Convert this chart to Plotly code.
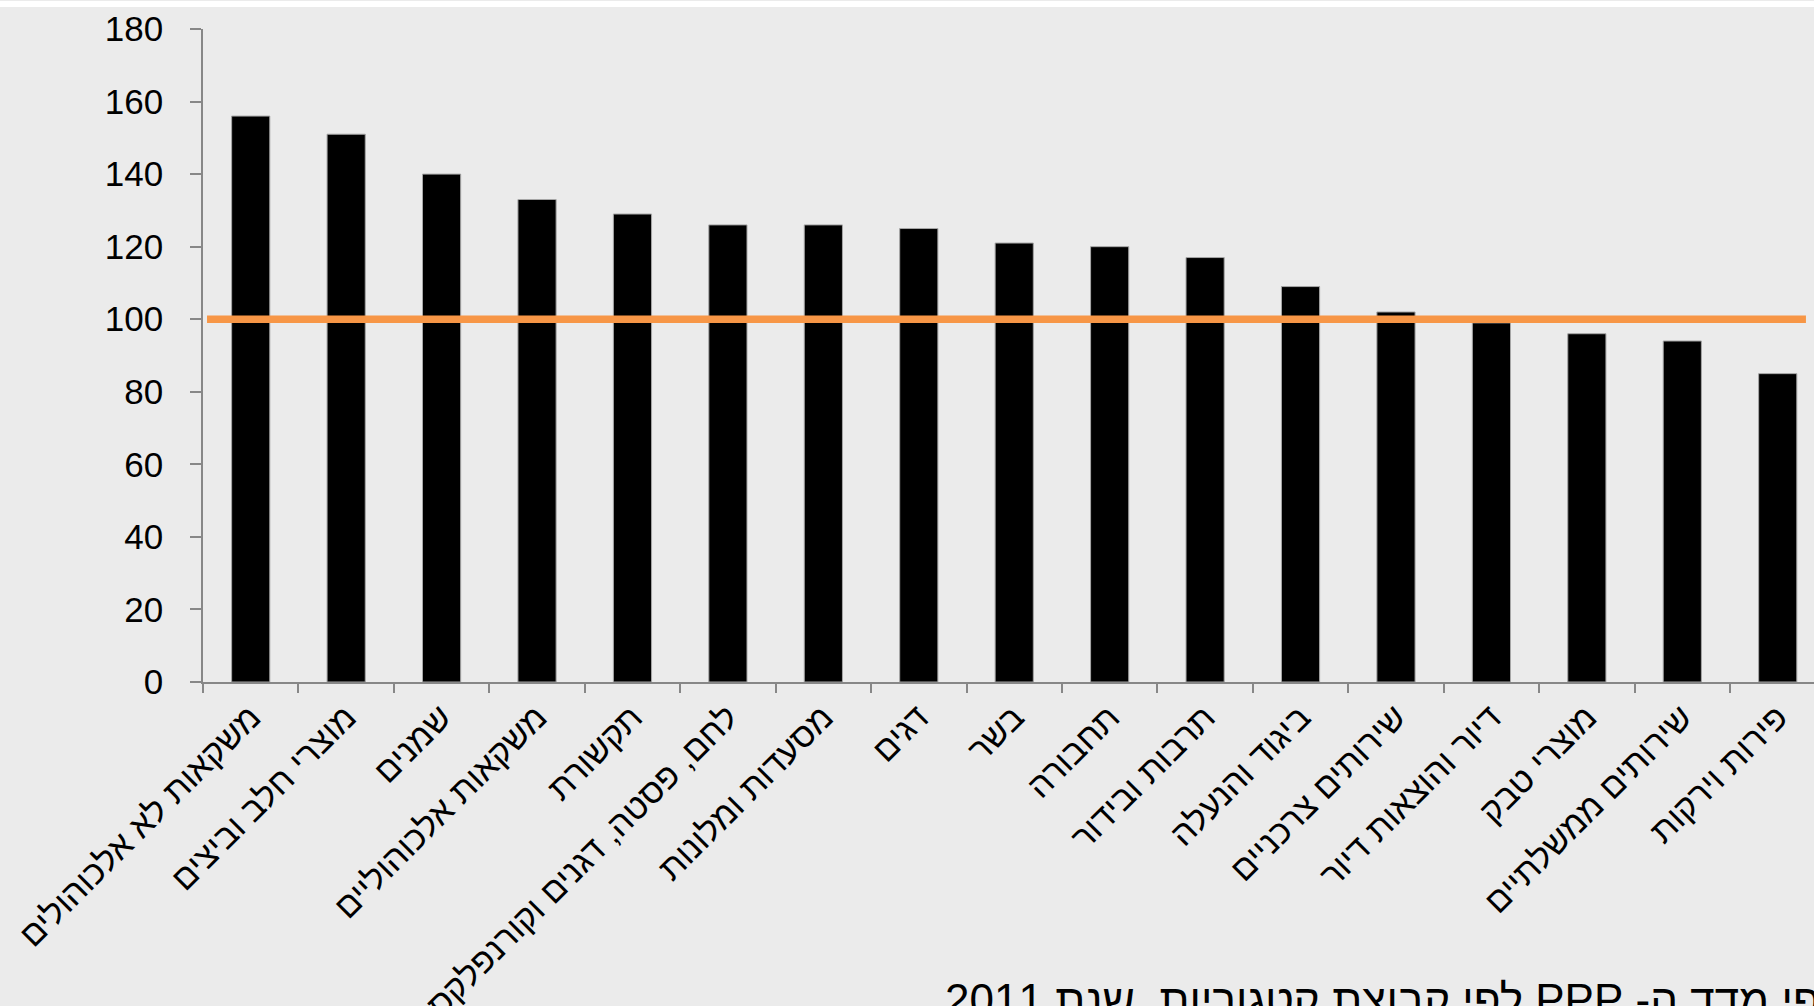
import plotly.graph_objects as go

categories = [
    "משקאות לא אלכוהולים",
    "מוצרי חלב וביצים",
    "שמנים",
    "משקאות אלכוהוליים",
    "תקשורת",
    "לחם, פסטה, דגנים וקורנפלקס",
    "מסעדות ומלונות",
    "דגים",
    "בשר",
    "תחבורה",
    "תרבות ובידור",
    "ביגוד והנעלה",
    "שירותים צרכניים",
    "דיור והוצאות דיור",
    "מוצרי טבק",
    "שירותים ממשלתיים",
    "פירות וירקות",
]
values = [156, 151, 140, 133, 129, 126, 126, 125, 121, 120, 117, 109, 102, 99, 96, 94, 85]
reference_level = 100
y_ticks = [0, 20, 40, 60, 80, 100, 120, 140, 160, 180]
subtitle = "\u202Bלפי מדד ה- PPP לפי קבוצת קטגוריות, שנת 2011\u202C"

BG = "#EBEBEB"
AXIS = "#878787"

fig = go.Figure()
fig.add_trace(go.Bar(
    x=categories, y=values,
    marker=dict(color="#000000", line=dict(color="#A6A6A6", width=1)),
    showlegend=False,
))

fig.add_shape(type="line", xref="paper", yref="y",
              x0=0.0025, x1=0.995, y0=reference_level, y1=reference_level,
              line=dict(color="#F79646", width=7.5), layer="above")

# white strip at the very top of the slide
fig.add_shape(type="rect", xref="paper", yref="paper",
              x0=-0.2, x1=1.01, y0=1 + 22 / 653, y1=1 + 28 / 653,
              fillcolor="#FFFFFF", line=dict(width=0), layer="above")

fig.add_annotation(text=subtitle, xref="paper", yref="paper",
                   x=(943 - 203) / 1611, y=-(973 - 682) / 653,
                   xanchor="left", yanchor="top", showarrow=False,
                   font=dict(family="Liberation Sans", size=44, color="#000000"))

fig.update_layout(
    width=1814, height=1006,
    margin=dict(l=203, r=0, t=29, b=324),
    paper_bgcolor=BG, plot_bgcolor=BG,
    bargap=0.6,
    font=dict(family="Liberation Sans", color="#000000"),
    xaxis=dict(
        range=[-0.5, 16.38], showgrid=False, zeroline=False,
        showline=True, linecolor=AXIS, linewidth=1.5,
        ticks="outside", tickson="boundaries", ticklen=9, tickcolor=AXIS, tickwidth=1.5,
        tickangle=-45, tickfont=dict(size=34, family="Liberation Sans"),
        automargin=False,
    ),
    yaxis=dict(
        range=[0, 180], tickvals=y_ticks, showgrid=False, zeroline=False,
        showline=True, linecolor=AXIS, linewidth=1.5,
        ticks="outside", ticklen=11, tickcolor=AXIS, tickwidth=1.5,
        tickfont=dict(size=35, family="Liberation Sans"),
        ticklabelstandoff=20,
        automargin=False,
    ),
)

fig.write_html("out.html", config={"displayModeBar": False},
               post_script="document.body.style.margin='0';document.body.style.overflow='hidden';")
